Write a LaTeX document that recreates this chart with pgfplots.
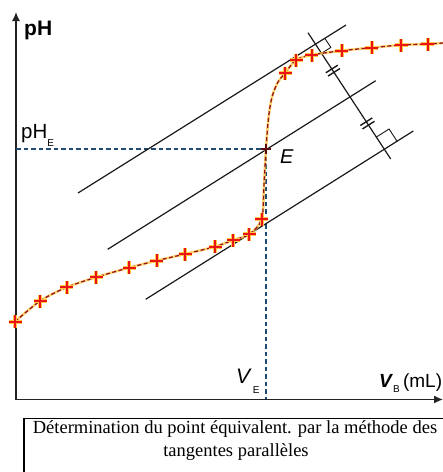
\documentclass[border=0pt]{standalone}
\usepackage{pgfplots}
\pgfplotsset{compat=1.18}
\usepackage{fontspec}
\setmainfont{Liberation Sans}
\newfontfamily\capfont{Liberation Serif}
\usetikzlibrary{arrows.meta}
\definecolor{curvered}{RGB}{150,20,30}
\definecolor{markred}{RGB}{235,20,20}
\definecolor{glow}{RGB}{255,200,70}
\definecolor{dblue}{RGB}{30,75,115}
\definecolor{axgray}{RGB}{35,35,35}
\definecolor{tang}{RGB}{25,25,25}
\begin{document}
\begin{tikzpicture}
\begin{axis}[
  x=1pt, y=1pt, y dir=reverse,
  xmin=0, xmax=443, ymin=0, ymax=472,
  hide axis, clip=false,
]
\coordinate (BL) at (axis cs:0,472);
\coordinate (TR) at (axis cs:443,0);
% axes
\addplot[axgray, line width=1.4pt, -{Latex[length=9pt,width=8pt]}] coordinates {(16,399.5) (443,399.5)};
\addplot[axgray, line width=1.4pt, -{Latex[length=9pt,width=8pt]}] coordinates {(16,399.5) (16,12)};
% dashed projections
\addplot[dblue, line width=1.2pt, dash pattern=on 4.5pt off 3pt] coordinates {(16,149) (266,149)};
\addplot[dblue, line width=1.2pt, dash pattern=on 4.5pt off 3pt] coordinates {(266,149) (266,399)};
% tangents
\addplot[tang, line width=1.2pt] coordinates {(78,193) (346,25)};
\addplot[tang, line width=1.2pt] coordinates {(107.7,249.3) (375.7,80.7)};
\addplot[tang, line width=1.2pt] coordinates {(145.7,299.3) (413.3,131)};
% perpendicular
\addplot[tang, line width=1.2pt] coordinates {(308,32.7) (390.7,159)};
% right angles
\addplot[tang, line width=0.9pt] coordinates {(324.8,38.3) (330.85,47.4) (321.5,53.3)};
\addplot[tang, line width=0.9pt] coordinates {(397.3,141.6) (389.1,129.0) (376.4,137.0)};
% equal-length hash marks
\addplot[tang, line width=1.4pt] coordinates {(325.8,72.8) (337.8,65.2)};
\addplot[tang, line width=1.4pt] coordinates {(328.0,76.1) (340.0,68.5)};
\addplot[tang, line width=1.4pt] coordinates {(360.3,125.5) (372.3,117.9)};
\addplot[tang, line width=1.4pt] coordinates {(362.5,128.9) (374.5,121.3)};
% titration curve
\addplot[glow, opacity=0.75, line width=2.6pt, smooth, tension=0.5] coordinates {
(15,321.7) (40,301) (66.7,287.3) (96,277.3) (129,267.7) (156.7,260.7) (185,254) (215,246.7) (233.3,240) (249.3,234.3) (261.7,219) (264,185) (266,149) (268.5,118) (272,97) (278,82) (285,73.3) (296,60) (311.7,55) (341.7,50.7) (371.7,47.7) (401,45) (427.7,44) (443,43)};
\addplot[curvered, line width=1.3pt, dash pattern=on 4pt off 2.5pt, smooth, tension=0.5] coordinates {
(15,321.7) (40,301) (66.7,287.3) (96,277.3) (129,267.7) (156.7,260.7) (185,254) (215,246.7) (233.3,240) (249.3,234.3) (261.7,219) (264,185) (266,149) (268.5,118) (272,97) (278,82) (285,73.3) (296,60) (311.7,55) (341.7,50.7) (371.7,47.7) (401,45) (427.7,44) (443,43)};
% measurement points
\addplot[only marks, mark=+, mark size=6.5pt, mark options={glow, line width=3.8pt}] coordinates {
(15,321.7) (40,301) (66.7,287.3) (96,277.3) (129,267.7) (156.7,260.7) (185,254) (215,246.7) (233.3,240) (249.3,234.3) (261.7,219) (285,73.3) (296,60) (311.7,55) (341.7,50.7) (371.7,47.7) (401,45) (427.7,44)};
\addplot[only marks, mark=+, mark size=6.5pt, mark options={markred, line width=2.3pt}] coordinates {
(15,321.7) (40,301) (66.7,287.3) (96,277.3) (129,267.7) (156.7,260.7) (185,254) (215,246.7) (233.3,240) (249.3,234.3) (261.7,219) (285,73.3) (296,60) (311.7,55) (341.7,50.7) (371.7,47.7) (401,45) (427.7,44)};
\addplot[only marks, mark=+, mark size=5pt, mark options={curvered!60!black, line width=2pt}] coordinates {(266,149)};
% labels
\node[anchor=base west, inner sep=0pt, font=\bfseries\fontsize{21}{21}\selectfont] at (axis cs:24,35) {pH};
\node[anchor=base west, inner sep=0pt, font=\fontsize{20.5}{20.5}\selectfont] at (axis cs:21,138) {pH\raisebox{-8pt}{\fontsize{10}{10}\selectfont E}};
\node[anchor=base west, inner sep=0pt, font=\itshape\fontsize{20}{20}\selectfont] at (axis cs:280,163) {E};
\node[anchor=base west, inner sep=0pt, font=\fontsize{21}{21}\selectfont] at (axis cs:236,383) {\textit{V}\hspace{1pt}\raisebox{-10pt}{\fontsize{10}{10}\selectfont E}};
\node[anchor=base west, inner sep=0pt, font=\fontsize{19}{19}\selectfont] at (axis cs:379,387) {\textbf{\textit{V}}\raisebox{-5pt}{\fontsize{10}{10}\selectfont B}\,(mL)};
% caption box
\draw[black, line width=1.5pt] (axis cs:24,474) -- (axis cs:24,418.5) -- (axis cs:446,418.5);
\node[anchor=base, inner sep=0pt, font=\capfont\fontsize{18.5}{18.5}\selectfont] at (axis cs:235,433.3) {Détermination du point équivalent. par la méthode des};
\node[anchor=base, inner sep=0pt, font=\capfont\fontsize{18.5}{18.5}\selectfont] at (axis cs:236,456.7) {tangentes parallèles};
\end{axis}
\pgfresetboundingbox
\path[use as bounding box] (BL) rectangle (TR);
\end{tikzpicture}
\end{document}
